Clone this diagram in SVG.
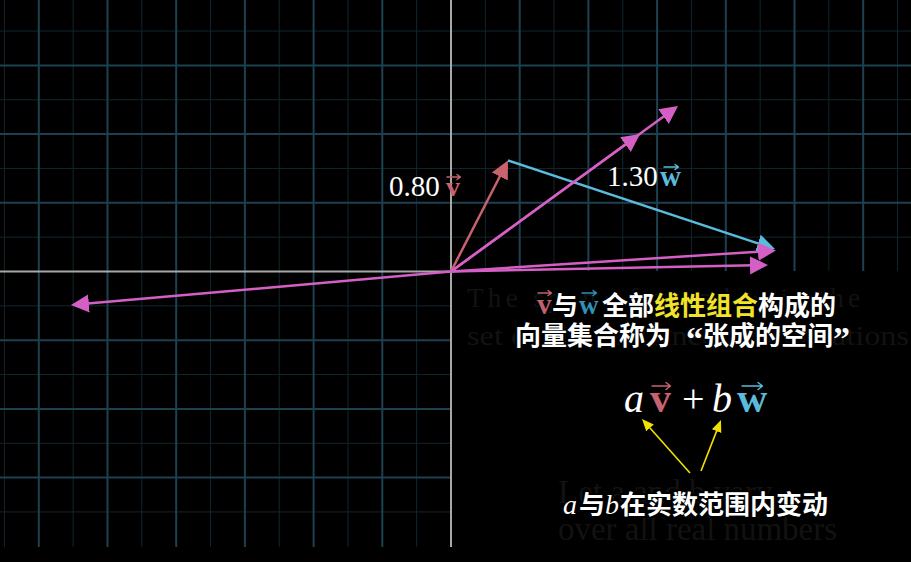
<svg xmlns="http://www.w3.org/2000/svg" width="911" height="562" viewBox="0 0 911 562">
<style>
.minor{stroke:#11262f;stroke-width:1}
.major{stroke:#1d4150;stroke-width:2}
.axis{stroke:#a8a8a8;stroke-width:2}
.vec{fill:none;stroke-width:2.5}
.pink{stroke:#d65fc6}
.red{stroke:#c9626f}
.blue{stroke:#5bbbdc}
.yel{fill:none;stroke:#f2e000;stroke-width:1.6}
.num{font-family:"Liberation Serif",serif;font-size:29px;fill:#ffffff}
.bv{font-family:"Liberation Serif",serif;font-weight:bold}
.acc{fill:none;stroke-width:1.4;stroke-linecap:round;stroke-linejoin:round}
.it{font-family:"Liberation Serif",serif;font-style:italic;fill:#ffffff}
.cjk{font-family:"Noto Sans CJK SC",sans-serif;font-weight:bold;font-size:26px;fill:#ffffff;stroke:#000;stroke-width:4;paint-order:stroke;stroke-linejoin:round}
.ghost{font-family:"Liberation Serif",serif;fill:#121212}
</style>
<defs>
<marker id="hPink" markerUnits="userSpaceOnUse" markerWidth="20" markerHeight="20" viewBox="0 -10 20 20" refX="4" refY="0" orient="auto"><path d="M0,-9 L18,0 L0,9z" fill="#d65fc6"/></marker>
<marker id="hRed" markerUnits="userSpaceOnUse" markerWidth="20" markerHeight="20" viewBox="0 -10 20 20" refX="4" refY="0" orient="auto"><path d="M0,-9 L18,0 L0,9z" fill="#c9626f"/></marker>
<marker id="hBlue" markerUnits="userSpaceOnUse" markerWidth="20" markerHeight="20" viewBox="0 -10 20 20" refX="4" refY="0" orient="auto"><path d="M0,-9 L18,0 L0,9z" fill="#5bbbdc"/></marker>
<marker id="hYel" markerUnits="userSpaceOnUse" markerWidth="14" markerHeight="14" viewBox="0 -7 14 14" refX="3" refY="0" orient="auto"><path d="M0,-5 L12,0 L0,5z" fill="#f2e000"/></marker>
</defs>
<rect x="0" y="0" width="911" height="562" fill="#000"/>
<g id="grid">
<g class="minor">
<line x1="4.45" y1="0" x2="4.45" y2="547"/><line x1="73.15" y1="0" x2="73.15" y2="547"/><line x1="141.85" y1="0" x2="141.85" y2="547"/><line x1="210.55" y1="0" x2="210.55" y2="547"/><line x1="279.25" y1="0" x2="279.25" y2="547"/><line x1="347.95" y1="0" x2="347.95" y2="547"/><line x1="416.65" y1="0" x2="416.65" y2="547"/>
<line x1="485.35" y1="0" x2="485.35" y2="547"/><line x1="554.05" y1="0" x2="554.05" y2="547"/><line x1="622.75" y1="0" x2="622.75" y2="547"/><line x1="691.45" y1="0" x2="691.45" y2="547"/><line x1="760.15" y1="0" x2="760.15" y2="547"/><line x1="828.85" y1="0" x2="828.85" y2="547"/><line x1="897.55" y1="0" x2="897.55" y2="547"/>
<line x1="0" y1="31.05" x2="911" y2="31.05"/><line x1="0" y1="99.75" x2="911" y2="99.75"/><line x1="0" y1="168.45" x2="911" y2="168.45"/><line x1="0" y1="237.15" x2="911" y2="237.15"/><line x1="0" y1="305.85" x2="911" y2="305.85"/><line x1="0" y1="374.55" x2="911" y2="374.55"/><line x1="0" y1="443.25" x2="911" y2="443.25"/><line x1="0" y1="511.95" x2="911" y2="511.95"/>
</g>
<g class="major">
<line x1="38.8" y1="0" x2="38.8" y2="547"/><line x1="107.5" y1="0" x2="107.5" y2="547"/><line x1="176.2" y1="0" x2="176.2" y2="547"/><line x1="244.9" y1="0" x2="244.9" y2="547"/><line x1="313.6" y1="0" x2="313.6" y2="547"/><line x1="382.3" y1="0" x2="382.3" y2="547"/>
<line x1="519.7" y1="0" x2="519.7" y2="547"/><line x1="588.4" y1="0" x2="588.4" y2="547"/><line x1="657.1" y1="0" x2="657.1" y2="547"/><line x1="725.8" y1="0" x2="725.8" y2="547"/><line x1="794.5" y1="0" x2="794.5" y2="547"/><line x1="863.2" y1="0" x2="863.2" y2="547"/>
<line x1="0" y1="65.4" x2="911" y2="65.4"/><line x1="0" y1="134.1" x2="911" y2="134.1"/><line x1="0" y1="202.8" x2="911" y2="202.8"/><line x1="0" y1="340.2" x2="911" y2="340.2"/><line x1="0" y1="408.9" x2="911" y2="408.9"/><line x1="0" y1="477.6" x2="911" y2="477.6"/>
</g>
<rect x="452" y="271" width="459" height="291" fill="#000"/>
<rect x="0" y="547" width="911" height="15" fill="#000"/>
<g class="axis">
<line x1="451" y1="0" x2="451" y2="547"/>
<line x1="0" y1="271.5" x2="451" y2="271.5"/>
</g>
</g>
<g id="ghost-text">
<text class="ghost" x="467" y="307" font-size="27" textLength="393" lengthAdjust="spacing">The span of v and w is the</text>
<text class="ghost" x="467" y="345" font-size="27" textLength="442" lengthAdjust="spacingAndGlyphs">set of all their linear combinations</text>
<text class="ghost" x="558" y="503" font-size="33">Let a and b vary</text>
<text class="ghost" x="558" y="540" font-size="33" textLength="279" lengthAdjust="spacing">over all real numbers</text>
</g>
<g id="connectors">
<line class="vec blue" x1="508" y1="160.5" x2="761.7" y2="244.6" marker-end="url(#hBlue)"/>
<line class="vec red" x1="451" y1="271.5" x2="501.6" y2="172.95" marker-end="url(#hRed)"/>
<line class="vec pink" x1="451" y1="271.5" x2="666.7" y2="114.25" marker-end="url(#hPink)"/>
<line class="vec pink" x1="451" y1="271.5" x2="628.7" y2="142.25" marker-end="url(#hPink)"/>
<line class="vec pink" x1="451" y1="271.5" x2="762" y2="251.4" marker-end="url(#hPink)"/>
<line class="vec pink" x1="451" y1="271.5" x2="754" y2="265.3" marker-end="url(#hPink)"/>
<line class="vec pink" x1="451" y1="271.5" x2="84.9" y2="303.8" marker-end="url(#hPink)"/>
<line class="yel" x1="690" y1="473" x2="648" y2="425.7" marker-end="url(#hYel)"/>
<line class="yel" x1="701" y1="471" x2="717.7" y2="428.4" marker-end="url(#hYel)"/>
</g>
<g id="label-v">
<text class="num" x="389" y="196">0.80</text>
<text class="bv" x="446" y="196" font-size="28" fill="#c9626f">v</text>
<path class="acc" stroke="#c9626f" d="M447,177 H460 M457,174.5 L460.5,177 L457,179.5"/>
</g>
<g id="label-w">
<text class="num" x="607" y="186">1.30</text>
<text class="bv" x="660" y="186" font-size="29" fill="#5bbbdc">w</text>
<path class="acc" stroke="#5bbbdc" d="M664,167 H678 M675,164.5 L678.5,167 L675,169.5"/>
</g>
<g id="caption-span">
<text class="bv" x="537" y="314" font-size="29" fill="#c0626f" stroke="#000" stroke-width="3" paint-order="stroke">v</text>
<path class="acc" stroke="#c0626f" d="M538,293 H551 M548,290.5 L551.5,293 L548,295.5"/>
<text class="cjk" x="552" y="315">与</text>
<text class="bv" x="579" y="314" font-size="27" fill="#2f93b8" stroke="#000" stroke-width="3" paint-order="stroke">w</text>
<path class="acc" stroke="#2f93b8" d="M582,293 H596 M593,290.5 L596.5,293 L593,295.5"/>
<text class="cjk" x="602" y="315">全部<tspan fill="#f0e32a">线性组合</tspan>构成的</text>
<text class="cjk" x="515" y="345">向量集合称为</text>
<text x="686" y="350" font-family="Liberation Serif,serif" font-weight="bold" font-size="34" fill="#fff">“</text>
<text class="cjk" x="703" y="345" fill="#c263b2">张成的空间</text>
<text x="833" y="350" font-family="Liberation Serif,serif" font-weight="bold" font-size="34" fill="#fff">”</text>
</g>
<g id="formula">
<text class="it" x="624" y="412" font-size="40">a</text>
<text class="bv" x="650" y="412" font-size="42" fill="#c9626f">v</text>
<path class="acc" stroke="#c9626f" stroke-width="2" d="M652,386 H670 M666,382.5 L670.5,386 L666,389.5"/>
<text x="682" y="412" font-family="Liberation Serif,serif" font-size="40" fill="#fff">+</text>
<text class="it" x="712" y="412" font-size="40">b</text>
<text class="bv" x="737" y="412" font-size="42" fill="#5bbbdc">w</text>
<path class="acc" stroke="#5bbbdc" stroke-width="2" d="M742,386 H762 M758,382.5 L762.5,386 L758,389.5"/>
</g>
<g id="caption-vary">
<text class="it" x="563" y="514" font-size="28" stroke="#000" stroke-width="3" paint-order="stroke">a</text>
<text class="cjk" x="579" y="514">与</text>
<text class="it" x="605" y="514" font-size="28" stroke="#000" stroke-width="3" paint-order="stroke">b</text>
<text class="cjk" x="620" y="514">在实数范围内变动</text>
</g>
</svg>
